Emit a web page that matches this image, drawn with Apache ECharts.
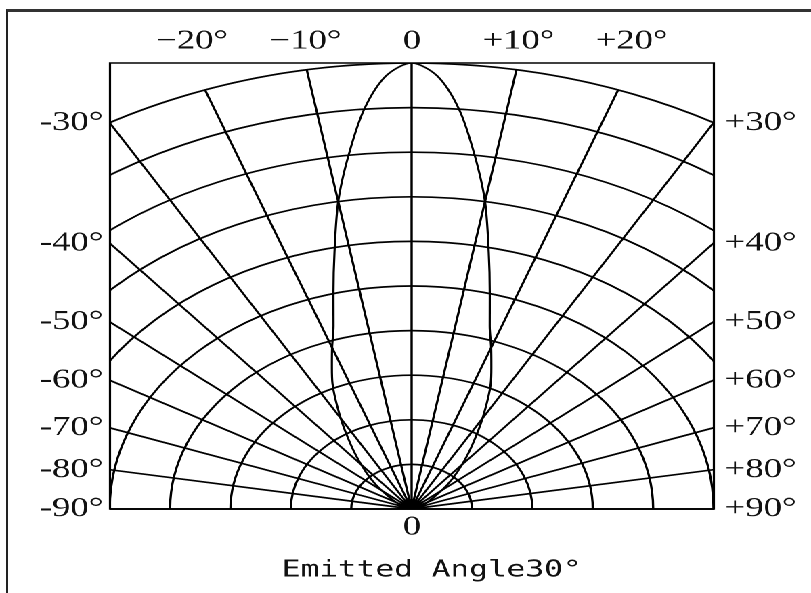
<!DOCTYPE html>
<html>
<head>
<meta charset="utf-8">
<script src="https://cdn.jsdelivr.net/npm/echarts@6/dist/echarts.min.js"></script>
<style>
  html, body { margin: 0; padding: 0; background: #fff; overflow: hidden; }
  #frame { position: absolute; left: 6px; top: 9px; width: 830px; height: 600px;
           border-top: 3px solid #333; border-left: 2px solid #222; }
  #wrap { position: absolute; left: 0; top: 0; width: 599px; height: 593px;
          transform: scaleX(1.354); transform-origin: 0 0; }
  #polar { position: absolute; left: 81.24px; top: 63px; width: 446px; height: 447px; }
  #axes { position: absolute; left: 0; top: 0; width: 599px; height: 593px; }
</style>
</head>
<body>
<div id="frame"></div>
<div id="wrap">
  <div id="polar"></div>
  <div id="axes"></div>
</div>
<script>
// relative intensity vs emitted angle (deg)
var angles = [-90, -80, -70, -60, -50, -45, -40, -35, -30, -25, -22.5, -20, -17.5, -15, -12.5, -10, -7.5, -5, -2.5, 0,
              2.5, 5, 7.5, 10, 12.5, 15, 17.5, 20, 22.5, 25, 30, 35, 40, 45, 50, 60, 70, 80, 90];
var intensity = [0, 0.004, 0.012, 0.03, 0.065, 0.095, 0.13, 0.175, 0.235, 0.31, 0.345, 0.385, 0.43, 0.5, 0.59, 0.7, 0.8, 0.9, 0.972, 1.0,
                 0.972, 0.9, 0.8, 0.7, 0.59, 0.5, 0.43, 0.385, 0.345, 0.31, 0.235, 0.175, 0.13, 0.095, 0.065, 0.03, 0.012, 0.004, 0];

// tick labels where the angle lines leave the frame
var topAngles = [-20, -10, 0, 10, 20];
var topLabels = ['\u221220\u00b0', '\u221210\u00b0', '0', '+10\u00b0', '+20\u00b0'];
var sideAngles = [30, 40, 50, 60, 70, 80, 90];
var leftLabels = ['-30\u00b0', '-40\u00b0', '-50\u00b0', '-60\u00b0', '-70\u00b0', '-80\u00b0', '-90\u00b0'];
var rightLabels = ['+30\u00b0', '+40\u00b0', '+50\u00b0', '+60\u00b0', '+70\u00b0', '+80\u00b0', '+90\u00b0'];
var bottomLabel = '0';
var titleText = 'Emitted Angle30\u00b0';

var LINE = '#000';
var TXT = '#111';
var SERIF = 'Liberation Serif';

var polarChart = echarts.init(document.getElementById('polar'), null, { devicePixelRatio: 2 });
polarChart.setOption({
  animation: false,
  polar: { center: [223, 446], radius: 446 },
  angleAxis: {
    type: 'value', min: -90, max: 90, interval: 10,
    startAngle: 180, endAngle: 0, clockwise: true,
    axisLine: { show: false }, axisTick: { show: false }, axisLabel: { show: false },
    splitLine: { show: true, lineStyle: { color: LINE, width: 1.7 } }
  },
  radiusAxis: {
    type: 'value', min: 0, max: 1, interval: 0.1,
    axisLine: { show: false }, axisTick: { show: false }, axisLabel: { show: false },
    splitLine: { show: true, lineStyle: { color: LINE, width: 1.7 } }
  },
  series: [{
    type: 'line',
    coordinateSystem: 'polar',
    data: angles.map(function (a, i) { return [intensity[i], a]; }),
    symbol: 'none',
    smooth: 0.3,
    lineStyle: { color: LINE, width: 1.6 },
    z: 3
  }]
});

// frame is a square of side R; angle line t meets the top at x = tan t, the sides at y = 0.5 / tan t
var rad = Math.PI / 180;
var topPos = topAngles.map(function (a) { return Math.tan(a * rad); });
var sidePos = sideAngles.map(function (a) { return a === 90 ? 0 : 0.5 / Math.tan(a * rad); });

function labelFor(positions, labels) {
  return function (v) {
    for (var i = 0; i < positions.length; i++) {
      if (Math.abs(positions[i] - v) < 1e-6) return labels[i];
    }
    return '';
  };
}

var labelStyle = { fontFamily: SERIF, fontSize: 27, color: TXT };

var axesChart = echarts.init(document.getElementById('axes'), null, { devicePixelRatio: 2 });
axesChart.setOption({
  animation: false,
  title: {
    text: titleText, left: 203, top: 554,
    textStyle: { fontFamily: 'DejaVu Sans Mono', fontSize: 23, fontWeight: 'normal', color: TXT }
  },
  grid: {
    left: 81.24, top: 63, width: 446, height: 446,
    show: true, borderColor: LINE, borderWidth: 1.6, backgroundColor: 'transparent'
  },
  xAxis: [{
    type: 'value', position: 'top', min: -0.5, max: 0.5,
    axisLine: { show: false }, axisTick: { show: false }, splitLine: { show: false },
    axisLabel: Object.assign({ customValues: topPos, margin: 8, formatter: labelFor(topPos, topLabels) }, labelStyle)
  }, {
    type: 'value', position: 'bottom', min: -0.5, max: 0.5,
    axisLine: { show: false }, axisTick: { show: false }, splitLine: { show: false },
    axisLabel: Object.assign({ customValues: [0], margin: 5, formatter: function () { return bottomLabel; } }, labelStyle)
  }],
  yAxis: [{
    type: 'value', position: 'left', min: 0, max: 1,
    axisLine: { show: false }, axisTick: { show: false }, splitLine: { show: false },
    axisLabel: Object.assign({ customValues: sidePos, margin: 5, formatter: labelFor(sidePos, leftLabels) }, labelStyle)
  }, {
    type: 'value', position: 'right', min: 0, max: 1,
    axisLine: { show: false }, axisTick: { show: false }, splitLine: { show: false },
    axisLabel: Object.assign({ customValues: sidePos, margin: 8, formatter: labelFor(sidePos, rightLabels) }, labelStyle)
  }],
  series: []
});
</script>
</body>
</html>
